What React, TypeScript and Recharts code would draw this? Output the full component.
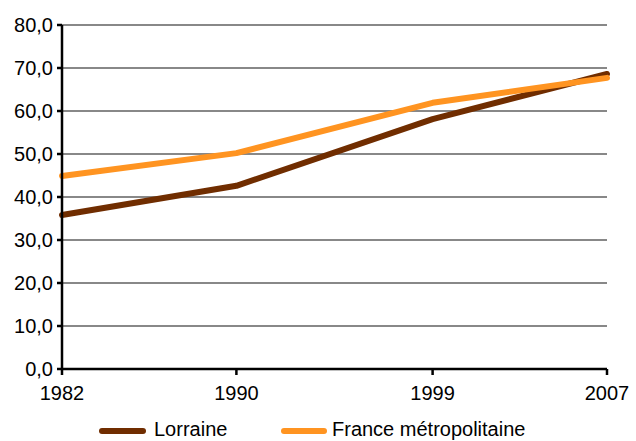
import React from "react";
import { LineChart, Line, XAxis, YAxis, CartesianGrid } from "recharts";

const years = [1982, 1990, 1999, 2007];
const lorraine = [35.8, 42.6, 58.1, 68.6];
const france = [44.9, 50.2, 61.9, 67.7];
const yTicks = [0, 10, 20, 30, 40, 50, 60, 70, 80];
const seriesNames = ["Lorraine", "France métropolitaine"];

const data = years.map((y, i) => ({ year: y, lorraine: lorraine[i], france: france[i] }));

const FONT = "'Liberation Sans', Arial, sans-serif";
const BROWN = "#702D00";
const ORANGE = "#FF9421";

const LegendOverlay = () => (
  <svg width={636} height={23} style={{ position: "absolute", left: 0, top: 418, display: "block" }}>
    <line x1={102} x2={143} y1={13} y2={13} stroke={BROWN} strokeWidth={6} strokeLinecap="round" />
    <text x={154} y={18} fontSize={20} fontFamily={FONT} fill="#000">{seriesNames[0]}</text>
    <line x1={284} x2={324} y1={13} y2={13} stroke={ORANGE} strokeWidth={6} strokeLinecap="round" />
    <text x={332} y={18} fontSize={20} fontFamily={FONT} fill="#000">{seriesNames[1]}</text>
  </svg>
);

export default function App() {
  return (
    <div style={{ position: "absolute", left: 0, top: 0, width: 636, height: 441, background: "#fff", overflow: "hidden" }}>
      <LineChart width={636} height={441} data={data} margin={{ top: 25, right: 29, bottom: 42, left: 0 }}>
        <CartesianGrid vertical={false} stroke="#888" strokeWidth={2} />
        <XAxis
          dataKey="year"
          type="number"
          domain={[1982, 2007]}
          ticks={years}
          height={30}
          stroke="#000"
          strokeWidth={2.5}
          tickSize={6}
          tickMargin={11}
          tick={{ fontSize: 20, fontFamily: FONT, fill: "#000" }}
          interval={0}
        />
        <YAxis
          width={62}
          domain={[0, 80]}
          ticks={yTicks}
          stroke="#000"
          strokeWidth={2.5}
          tickSize={5}
          tickMargin={4}
          tickFormatter={(v: number) => v.toFixed(1).replace(".", ",")}
          tick={{ fontSize: 20, fontFamily: FONT, fill: "#000" }}
        />
        <Line dataKey="lorraine" name={seriesNames[0]} stroke={BROWN} strokeWidth={6} dot={false} strokeLinecap="round" strokeLinejoin="round" isAnimationActive={false} />
        <Line dataKey="france" name={seriesNames[1]} stroke={ORANGE} strokeWidth={6} dot={false} strokeLinecap="round" strokeLinejoin="round" isAnimationActive={false} />
      </LineChart>
      <LegendOverlay />
    </div>
  );
}
